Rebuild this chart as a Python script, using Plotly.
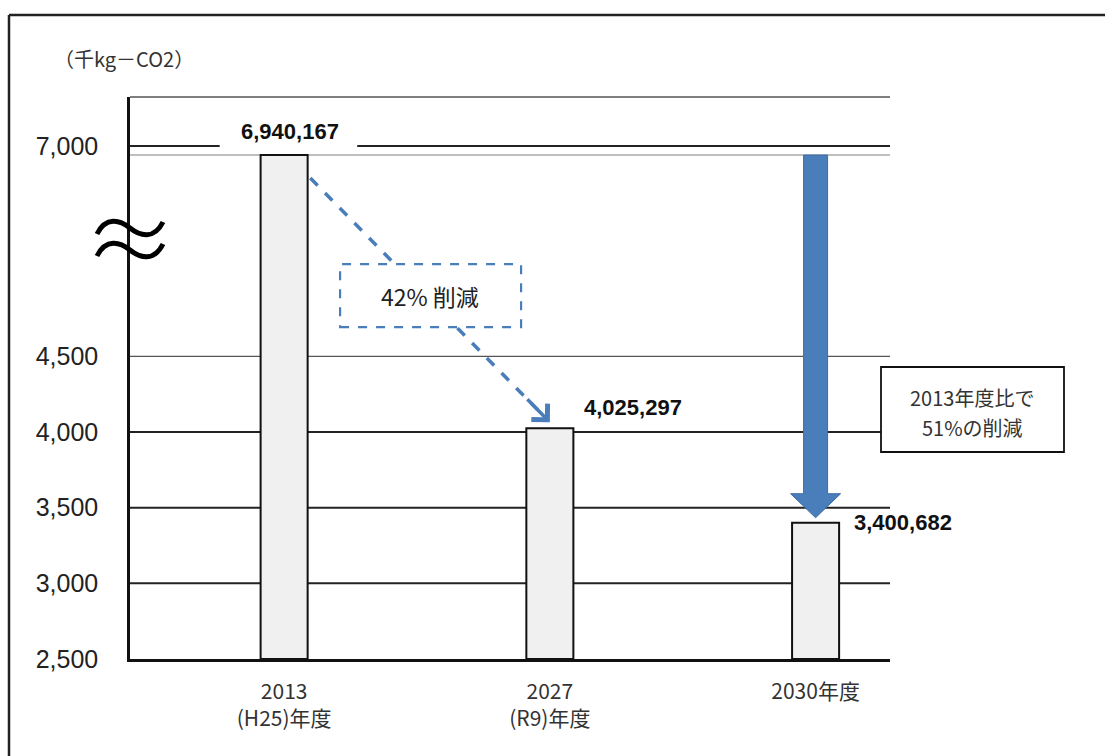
import plotly.graph_objects as go

# ---------------- data ----------------
categories = ["2013<br>(H25)年度", "2027<br>(R9)年度", "2030年度"]
emissions_kg = [6940167, 4025297, 3400682]          # kg-CO2
y_tick_values = [2500, 3000, 3500, 4000, 4500, 7000]  # thousand kg-CO2
y_tick_text = ["2,500", "3,000", "3,500", "4,000", "4,500", "7,000"]
unit_label = "（千kg－CO2）"
reduction_label = "42% 削減"
target_lines = ["2013年度比で", "51%の削減"]

values = [v / 1000 for v in emissions_kg]

# ---------------- broken y scale ----------------
BREAK_FROM = 5000      # values above this are drawn above the break
HIDDEN_SPAN = 1110     # thousand kg removed by the break
Y_RANGE = [2500, 6214]


def d(v):
    return v - HIDDEN_SPAN if v > BREAK_FROM else v


# plot-area geometry
W, H = 1105, 756
ML, MR, MT, MB = 130, 215, 97, 97
PW, PH = W - ML - MR, H - MT - MB
UPP = (Y_RANGE[1] - Y_RANGE[0]) / PH      # data units per pixel
X_RANGE = [-0.58, 2.28]
BAR_W = 0.177

FONT = "Liberation Sans, Arial, Noto Sans CJK JP, sans-serif"
JFONT = "Noto Sans CJK JP, Liberation Sans, sans-serif"
BLUE = "#4a7ebb"


def px_x(p):
    return (p - ML) / PW


def px_y(p):
    return (H - MB - p) / PH


fig = go.Figure()
fig.add_trace(go.Bar(
    x=categories, y=[d(v) - Y_RANGE[0] for v in values], base=Y_RANGE[0],
    width=BAR_W, marker=dict(color="#f0f0f0", line=dict(color="#111", width=2)),
    hoverinfo="skip", showlegend=False,
))

shapes = []
annotations = []


def hline(y, color, width, x0=0, x1=1):
    shapes.append(dict(type="line", xref="paper", yref="y", x0=x0, x1=x1, y0=y, y1=y,
                       line=dict(color=color, width=width), layer="below"))


for t in y_tick_values:
    if t == 2500:
        continue
    if t == 4500:
        hline(d(t), "#555", 1.2)
    elif t == 7000:
        # broken around the first value label
        hline(d(t), "#222", 2, 0, 0.118)
        hline(d(t), "#222", 2, 0.299, 1)
    else:
        hline(d(t), "#222", 2)
hline(d(values[0]), "#aaa", 1.5)
shapes.append(dict(type="line", xref="paper", yref="paper", x0=0, x1=1, y0=1, y1=1,
                   line=dict(color="#555", width=1.3), layer="below"))

# outer frame (top and left)
fx0 = px_x(9)
fy0 = px_y(15)
shapes.append(dict(type="line", xref="paper", yref="paper", x0=fx0, x1=px_x(W),
                   y0=fy0, y1=fy0, line=dict(color="#222", width=2.5)))
shapes.append(dict(type="line", xref="paper", yref="paper", x0=fx0, x1=fx0,
                   y0=fy0, y1=px_y(H + 5), line=dict(color="#222", width=2.5)))

# axis-break symbol
shapes.append(dict(type="path", xref="paper", yref="paper", xsizemode="pixel", ysizemode="pixel",
                   xanchor=0, yanchor=px_y(240),
                   path="M-33,6 C-24,24 -10,20 0,12 S24,0 33,18 "
                        "M-33,-16 C-24,2 -10,-2 0,-10 S24,-22 33,-4",
                   line=dict(color="#000", width=5), fillcolor="rgba(0,0,0,0)"))

# dashed reduction arrow 2013 -> 2027
tx, ty = 0 + BAR_W / 2 + 0.01, d(values[0]) - 23 * UPP
px, py = 1, d(values[1]) + 6 * UPP
shapes.append(dict(type="line", xref="x", yref="y",
                   x0=tx, y0=ty, x1=tx + 0.95 * (px - tx), y1=ty + 0.95 * (py - ty),
                   line=dict(color=BLUE, width=3.5, dash="dash")))
annotations.append(dict(x=px, y=py, ax=tx + 0.9 * (px - tx), ay=ty + 0.9 * (py - ty),
                        xref="x", yref="y", axref="x", ayref="y", text="",
                        showarrow=True, arrowhead=4, arrowsize=1.25, arrowwidth=3.5,
                        arrowcolor=BLUE))
mx, my = tx + 0.5 * (px - tx), ty + 0.5 * (py - ty)
shapes.append(dict(type="rect", xref="x", yref="y", xsizemode="pixel", ysizemode="pixel",
                   xanchor=mx, yanchor=my, x0=-90, x1=91, y0=-27, y1=36,
                   fillcolor="white", line=dict(color=BLUE, width=2.2, dash="dash")))
annotations.append(dict(x=mx, y=my, xref="x", yref="y", text=reduction_label, showarrow=False,
                        yshift=4, font=dict(family=JFONT, size=23, color="#222")))

# big blue arrow 2013 level -> 2030
top = d(values[0])
tip = d(values[2]) + 5 * UPP
hb = tip + 24 * UPP
shapes.append(dict(type="path", xref="x", yref="y", xsizemode="pixel", xanchor=2,
                   path=f"M-12,{top} L12,{top} L12,{hb} L25,{hb} L0,{tip} L-25,{hb} L-12,{hb} Z",
                   fillcolor=BLUE, line=dict(color="#3e6ca6", width=1)))

# value labels
annotations.append(dict(x=0, y=d(values[0]), xref="x", yref="y", text=f"{emissions_kg[0]:,}",
                        showarrow=False, yanchor="bottom", yshift=9, xshift=6,
                        font=dict(family=FONT, size=22, color="#111", weight="bold")))
annotations.append(dict(x=1 + BAR_W / 2, y=d(values[1]), xref="x", yref="y",
                        text=f"{emissions_kg[1]:,}", showarrow=False, xanchor="left",
                        yanchor="bottom", yshift=6, xshift=9,
                        font=dict(family=FONT, size=22, color="#111", weight="bold")))
annotations.append(dict(x=2 + BAR_W / 2, y=d(values[2]), xref="x", yref="y",
                        text=f"{emissions_kg[2]:,}", showarrow=False, xanchor="left",
                        yanchor="middle", xshift=13,
                        font=dict(family=FONT, size=22, color="#111", weight="bold")))

# target box
shapes.append(dict(type="rect", xref="paper", yref="paper",
                   x0=px_x(881), x1=px_x(1064), y0=px_y(452), y1=px_y(367),
                   fillcolor="white", line=dict(color="#111", width=1.8)))
for i, line_text in enumerate(target_lines):
    annotations.append(dict(x=px_x(972), y=px_y(397 + 30 * i), xref="paper", yref="paper",
                            xanchor="center", yanchor="middle", text=line_text,
                            showarrow=False, font=dict(family=JFONT, size=20, color="#333")))

# unit label
annotations.append(dict(x=px_x(52), y=px_y(58), xref="paper", yref="paper",
                        xanchor="left", yanchor="middle", text=unit_label, showarrow=False,
                        font=dict(family=JFONT, size=20, color="#333")))

fig.update_layout(
    width=W, height=H, margin=dict(l=ML, r=MR, t=MT, b=MB),
    paper_bgcolor="white", plot_bgcolor="white",
    showlegend=False, shapes=shapes, annotations=annotations,
    xaxis=dict(type="category", range=X_RANGE, showgrid=False, zeroline=False,
               showline=True, linecolor="#111", linewidth=2.5, ticks="",
               ticklabelstandoff=12,
               tickfont=dict(family=JFONT, size=21, color="#333")),
    yaxis=dict(range=Y_RANGE, tickvals=[d(t) for t in y_tick_values], ticktext=y_tick_text,
               showgrid=False, zeroline=False, showline=True, linecolor="#111",
               linewidth=2.5, ticks="", ticklabelstandoff=24,
               tickfont=dict(family=FONT, size=25, color="#222")),
)

fig.write_html("out.html")
